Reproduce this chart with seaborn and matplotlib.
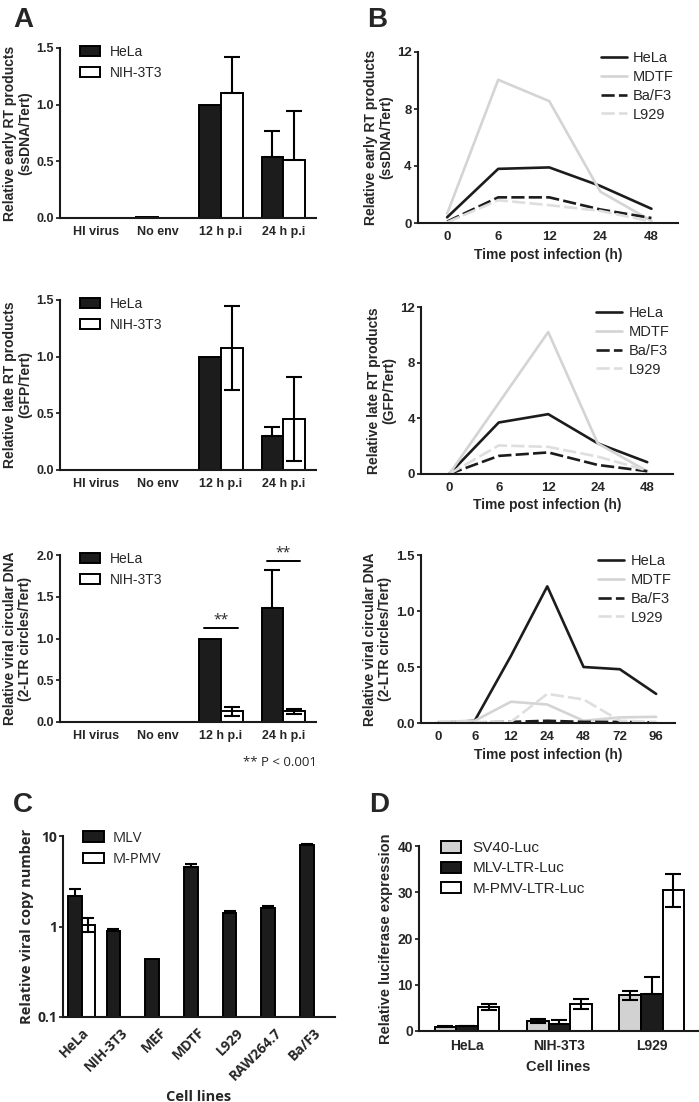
import numpy as np
import pandas as pd
import matplotlib
matplotlib.use("Agg")
import matplotlib.pyplot as plt
import seaborn as sns

# ------------------------
# DATA
# ------------------------
a_conditions = ["HI virus", "No env", "12 h p.i", "24 h p.i"]
a_cells = ["HeLa", "NIH-3T3"]

early_hela = [0.004, 0.006, 1.00, 0.54]
early_nih = [0.0, 0.0, 1.10, 0.51]
early_hela_err = [0.0, 0.0, 0.0, 0.23]
early_nih_err = [0.0, 0.0, 0.32, 0.43]

late_hela = [0.0, 0.0, 1.00, 0.30]
late_nih = [0.0, 0.0, 1.08, 0.45]
late_hela_err = [0.0, 0.0, 0.0, 0.08]
late_nih_err = [0.0, 0.0, 0.37, 0.37]

circ_hela = [0.0, 0.0, 1.00, 1.36]
circ_nih = [0.0, 0.0, 0.13, 0.13]
circ_hela_err = [0.0, 0.0, 0.0, 0.46]
circ_nih_err = [0.0, 0.0, 0.055, 0.03]

b_cells = ["HeLa", "MDTF", "Ba/F3", "L929"]
b_times_short = ["0", "6", "12", "24", "48"]
b_times_long = ["0", "6", "12", "24", "48", "72", "96"]

b_early_hela = [0.4, 3.8, 3.9, 2.6, 1.0]
b_early_mdtf = [0.65, 10.05, 8.55, 2.2, 0.15]
b_early_baf3 = [0.1, 1.8, 1.8, 0.95, 0.35]
b_early_l929 = [0.05, 1.6, 1.25, 0.85, 0.1]

b_late_hela = [0.0, 3.7, 4.3, 2.2, 0.85]
b_late_mdtf = [0.0, 5.1, 10.2, 2.2, 0.2]
b_late_baf3 = [0.0, 1.3, 1.55, 0.65, 0.2]
b_late_l929 = [0.0, 2.05, 1.95, 1.25, 0.25]

b_circ_hela = [0.0, 0.02, 0.6, 1.22, 0.5, 0.48, 0.26]
b_circ_mdtf = [0.01, 0.02, 0.19, 0.165, 0.02, 0.05, 0.055]
b_circ_baf3 = [0.005, 0.005, 0.01, 0.02, 0.01, 0.01, 0.005]
b_circ_l929 = [0.01, 0.01, 0.01, 0.26, 0.21, 0.02, 0.01]

c_cells = ["HeLa", "NIH-3T3", "MEF", "MDTF", "L929", "RAW264.7", "Ba/F3"]
c_viruses = ["MLV", "M-PMV"]
c_mlv = [2.18, 0.89, 0.44, 4.55, 1.42, 1.61, 8.0]
c_mlv_err = [0.4, 0.04, 0.0, 0.3, 0.05, 0.07, 0.15]
c_mpmv = [1.05, np.nan, np.nan, np.nan, np.nan, np.nan, np.nan]
c_mpmv_err = [0.18, 0.0, 0.0, 0.0, 0.0, 0.0, 0.0]

d_cells = ["HeLa", "NIH-3T3", "L929"]
d_constructs = ["SV40-Luc", "MLV-LTR-Luc", "M-PMV-LTR-Luc"]
d_sv40 = [0.9, 2.2, 7.7]
d_sv40_err = [0.1, 0.4, 0.95]
d_mlv = [1.0, 1.6, 8.1]
d_mlv_err = [0.15, 0.7, 3.6]
d_mpmv = [5.1, 5.8, 30.4]
d_mpmv_err = [0.65, 1.15, 3.6]

# ------------------------
# STYLE
# ------------------------
sns.set_style("ticks")
plt.rcParams["font.family"] = ["Liberation Sans", "DejaVu Sans"]
plt.rcParams["axes.linewidth"] = 1.5
plt.rcParams["axes.edgecolor"] = "#1a1a1a"
plt.rcParams["ytick.major.width"] = 1.3
plt.rcParams["ytick.major.size"] = 3
plt.rcParams["ytick.major.pad"] = 1.5
plt.rcParams["xtick.major.size"] = 0
plt.rcParams["xtick.major.pad"] = 6

W, H = 699, 1102
DARK = "#1c1c1c"
GREY = "#d4d4d4"
LIGHT = "#dedede"
DASH = (0, (5, 1.6))
OPEN = ["Open Sans", "DejaVu Sans"]

fig = plt.figure(figsize=(W / 100, H / 100), dpi=100)


def px_axes(left, top, right, bottom):
    return fig.add_axes([left / W, 1 - bottom / H, (right - left) / W, (bottom - top) / H])


def style_axis(ax, fs=9.5, family=None):
    sns.despine(ax=ax)
    for lab in ax.get_xticklabels() + ax.get_yticklabels():
        lab.set_fontweight("bold")
        lab.set_fontsize(fs)
        if family:
            lab.set_family(family)


def grouped_bars(ax, cats, names, colors, values, errors, upper_only=False,
                 lw=1.4, capsize=5.5):
    rows = []
    for name, vals in zip(names, values):
        for cat, v in zip(cats, vals):
            if not np.isnan(v):
                rows.append({"cat": cat, "group": name, "value": v})
    df = pd.DataFrame(rows)
    sns.barplot(data=df, x="cat", y="value", hue="group", order=cats, hue_order=names,
                palette=dict(zip(names, colors)), saturation=1, width=0.7,
                errorbar=None, edgecolor="black", linewidth=lw, ax=ax)
    for cont, vals, errs, col in zip(ax.containers, values, errors, colors):
        keep = [i for i, v in enumerate(vals) if not np.isnan(v)]
        for p, i in zip(cont, keep):
            if errs[i] <= 0:
                continue
            x = p.get_x() + p.get_width() / 2
            # lower whisker is hidden inside dark bars
            low = 0 if (upper_only or col == DARK) else errs[i]
            ax.errorbar([x], [vals[i]], yerr=[[low], [errs[i]]], fmt="none",
                        ecolor="black", elinewidth=1.5, capsize=capsize,
                        capthick=1.5, zorder=5)


def bar_legend(ax, x0, fs=10, hl=1.45, hh=0.75, pad=0.7, spacing=0.5, y0=1.02):
    ax.legend(loc="upper left", bbox_to_anchor=(x0, y0), frameon=False,
              borderpad=0, borderaxespad=0, fontsize=fs, handlelength=hl,
              handleheight=hh, handletextpad=pad, labelspacing=spacing)


def time_lines(ax, times, series):
    colors = [DARK, GREY, DARK, LIGHT]
    styles = ["-", "-", DASH, DASH]
    for name, vals, col, ls in zip(b_cells, series, colors, styles):
        sns.lineplot(x=times, y=vals, color=col, linestyle=ls, linewidth=1.9,
                     label=name, sort=False, ax=ax)
    ax.legend(loc="upper right", bbox_to_anchor=(0.985, 1.005), frameon=False,
              borderpad=0, borderaxespad=0, fontsize=10.5, handlelength=1.75,
              handletextpad=0.45, labelspacing=0.33)
    ax.set_xlabel("Time post infection (h)", fontsize=10, fontweight="bold", labelpad=3)


def ylabel(ax, text, fs=10, pad=3, family=None):
    ax.set_ylabel(text, fontsize=fs, fontweight="bold", labelpad=pad, linespacing=1.1,
                  family=family)


# ------------------------
# PANEL A
# ------------------------
a_colors = [DARK, "white"]

ax = px_axes(60, 48, 316, 218)
grouped_bars(ax, a_conditions, a_cells, a_colors, [early_hela, early_nih],
             [early_hela_err, early_nih_err], upper_only=True)
ax.set_ylim(0, 1.5)
ax.set_yticks([0, 0.5, 1.0, 1.5])
ax.set_yticklabels(["0.0", "0.5", "1.0", "1.5"])
ax.set_xlim(-0.57, 3.52)
ax.set_xlabel("")
ylabel(ax, "Relative early RT products\n(ssDNA/Tert)")
bar_legend(ax, 0.078)
style_axis(ax, fs=9)

ax = px_axes(60, 300, 316, 470)
grouped_bars(ax, a_conditions, a_cells, a_colors, [late_hela, late_nih],
             [late_hela_err, late_nih_err])
ax.set_ylim(0, 1.5)
ax.set_yticks([0, 0.5, 1.0, 1.5])
ax.set_yticklabels(["0.0", "0.5", "1.0", "1.5"])
ax.set_xlim(-0.57, 3.52)
ax.set_xlabel("")
ylabel(ax, "Relative late RT products\n(GFP/Tert)")
bar_legend(ax, 0.078)
style_axis(ax, fs=9)

ax = px_axes(60, 555, 316, 722)
grouped_bars(ax, a_conditions, a_cells, a_colors, [circ_hela, circ_nih],
             [circ_hela_err, circ_nih_err])
ax.set_ylim(0, 2.0)
ax.set_yticks([0, 0.5, 1.0, 1.5, 2.0])
ax.set_yticklabels(["0.0", "0.5", "1.0", "1.5", "2.0"])
ax.set_xlim(-0.57, 3.52)
ax.set_xlabel("")
ylabel(ax, "Relative viral circular DNA\n(2-LTR circles/Tert)")
bar_legend(ax, 0.078)
style_axis(ax, fs=9)
# significance brackets
for i, ybar in [(2, 1.12), (3, 1.93)]:
    hp = ax.containers[0][i]
    npch = ax.containers[1][i]
    x0 = hp.get_x() + 0.23 * hp.get_width()
    x1 = npch.get_x() + 0.77 * npch.get_width()
    ax.plot([x0, x1], [ybar, ybar], color="black", lw=1.4, clip_on=False)
    ax.text((x0 + x1) / 2, ybar + 0.1, "**", ha="center", va="center", fontsize=10,
            family=OPEN)
fig.text(317 / W, 1 - 762 / H, "** P < 0.001", ha="right", va="center", fontsize=9.5,
         family=OPEN)

# ------------------------
# PANEL B
# ------------------------
ax = px_axes(418, 52, 678, 223)
time_lines(ax, b_times_short, [b_early_hela, b_early_mdtf, b_early_baf3, b_early_l929])
ax.set_ylim(0, 12)
ax.set_yticks([0, 4, 8, 12])
ax.set_xlim(-0.57, 4.52)
ylabel(ax, "Relative early RT products\n(ssDNA/Tert)")
style_axis(ax)

ax = px_axes(421, 307, 673, 474)
time_lines(ax, b_times_short, [b_late_hela, b_late_mdtf, b_late_baf3, b_late_l929])
ax.set_ylim(0, 12)
ax.set_yticks([0, 4, 8, 12])
ax.set_xlim(-0.57, 4.52)
ylabel(ax, "Relative late RT products\n(GFP/Tert)")
style_axis(ax)

ax = px_axes(421, 555, 675, 723)
time_lines(ax, b_times_long, [b_circ_hela, b_circ_mdtf, b_circ_baf3, b_circ_l929])
ax.set_ylim(0, 1.5)
ax.set_yticks([0, 0.5, 1.0, 1.5])
ax.set_yticklabels(["0.0", "0.5", "1.0", "1.5"])
ax.set_xlim(-0.48, 6.52)
ylabel(ax, "Relative viral circular DNA\n(2-LTR circles/Tert)")
style_axis(ax)

# ------------------------
# PANEL C
# ------------------------
ax = px_axes(63, 836, 335, 1017)
ax.set_yscale("log")
grouped_bars(ax, c_cells, c_viruses, [DARK, "white"], [c_mlv, c_mpmv],
             [c_mlv_err, c_mpmv_err], capsize=4)
ax.set_ylim(0.1, 10)
ax.set_yticks([0.1, 1, 10])
ax.set_yticklabels(["0.1", "1", "10"])
ax.minorticks_off()
ax.set_xlim(-0.48, 6.55)
ax.set_xlabel("Cell lines", fontsize=10.5, fontweight="bold", family=OPEN, labelpad=5)
ylabel(ax, "Relative viral copy number", fs=10.5, pad=2, family=OPEN)
ax.legend(loc="upper left", bbox_to_anchor=(0.074, 1.03), frameon=False, borderpad=0,
          borderaxespad=0, handlelength=1.45, handleheight=0.75, handletextpad=0.6,
          labelspacing=0.45, prop={"family": OPEN, "size": 10.5})
style_axis(ax, fs=10, family=OPEN)
for lab in ax.get_xticklabels():
    lab.set_rotation(45)
    lab.set_ha("right")
    lab.set_rotation_mode("anchor")

# ------------------------
# PANEL D
# ------------------------
ax = px_axes(419, 846, 698, 1031)
grouped_bars(ax, d_cells, d_constructs, ["#d2d2d2", DARK, "white"],
             [d_sv40, d_mlv, d_mpmv], [d_sv40_err, d_mlv_err, d_mpmv_err], capsize=6)
ax.set_ylim(0, 40)
ax.set_yticks([0, 10, 20, 30, 40])
ax.set_xlim(-0.52, 2.5)
ax.set_xlabel("Cell lines", fontsize=10.5, fontweight="bold", labelpad=5)
ylabel(ax, "Relative luciferase expression", fs=10.5, pad=3)
bar_legend(ax, 0.079, fs=11, hl=1.3, hh=0.75, pad=0.75, spacing=0.4, y0=1.025)
style_axis(ax, fs=10)

# ------------------------
# PANEL LETTERS
# ------------------------
for x, y, letter in [(13, 27, "A"), (367, 27, "B"), (13, 812, "C"), (369, 812, "D")]:
    fig.text(x / W, 1 - y / H, letter, fontsize=20, fontweight="bold", va="baseline")

fig.savefig("out.png", dpi=100)
